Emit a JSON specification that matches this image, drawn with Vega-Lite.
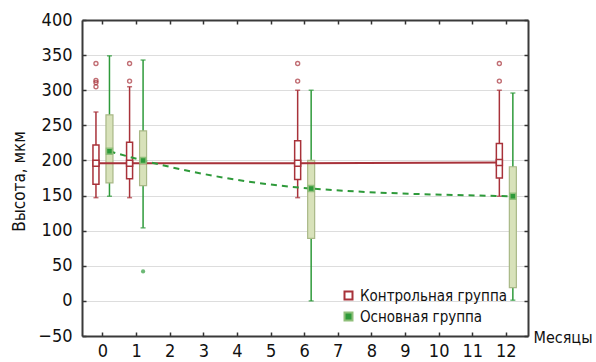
{
  "$schema": "https://vega.github.io/schema/vega-lite/v6.json",
  "width": 446,
  "height": 316,
  "autosize": "none",
  "padding": {"left": 82, "top": 20, "right": 68, "bottom": 26},
  "config": {
    "view": {"stroke": null},
    "font": "DejaVu Sans Condensed",
    "axis": {"domain": true, "domainColor": "#3a3a3a", "domainWidth": 2, "grid": false, "tickColor": "#333", "tickWidth": 1.5, "labelFont": "DejaVu Sans Condensed", "titleFont": "DejaVu Sans Condensed"}
  },
  "datasets": {
    "boxes": [
      {"group": "Контрольная группа", "month": 0, "lower": 147, "q1": 166, "median": 196, "q3": 222, "upper": 269},
      {"group": "Контрольная группа", "month": 1, "lower": 147, "q1": 174, "median": 196, "q3": 226, "upper": 305},
      {"group": "Контрольная группа", "month": 6, "lower": 147, "q1": 173, "median": 196, "q3": 228, "upper": 300},
      {"group": "Контрольная группа", "month": 12, "lower": 149, "q1": 175, "median": 197, "q3": 224, "upper": 300},
      {"group": "Основная группа", "month": 0, "lower": 149, "q1": 168, "median": 213, "q3": 265, "upper": 349},
      {"group": "Основная группа", "month": 1, "lower": 104, "q1": 164, "median": 200, "q3": 242, "upper": 343},
      {"group": "Основная группа", "month": 6, "lower": 0, "q1": 89, "median": 160, "q3": 200, "upper": 300},
      {"group": "Основная группа", "month": 12, "lower": 1, "q1": 19, "median": 149, "q3": 191, "upper": 296}
    ],
    "outliers": [
      {"group": "Контрольная группа", "month": 0, "value": 338},
      {"group": "Контрольная группа", "month": 0, "value": 314},
      {"group": "Контрольная группа", "month": 0, "value": 311},
      {"group": "Контрольная группа", "month": 0, "value": 305},
      {"group": "Контрольная группа", "month": 1, "value": 338},
      {"group": "Контрольная группа", "month": 1, "value": 313},
      {"group": "Контрольная группа", "month": 6, "value": 338},
      {"group": "Контрольная группа", "month": 6, "value": 313},
      {"group": "Контрольная группа", "month": 12, "value": 338},
      {"group": "Контрольная группа", "month": 12, "value": 313},
      {"group": "Основная группа", "month": 1, "value": 42}
    ]
  },
  "layer": [
    {
      "data": {"name": "boxes"},
      "transform": [{"filter": "datum.group == 'Контрольная группа'"}],
      "mark": {"type": "rule", "color": "#a8323a", "strokeWidth": 1.5, "xOffset": -6.5},
      "encoding": {
        "x": {"field": "month", "type": "quantitative",
          "scale": {"domain": [-0.46, 12.51], "nice": false, "zero": false},
          "axis": {"orient": "bottom", "zindex": 1, "values": [0,1,2,3,4,5,6,7,8,9,10,11,12], "tickSize": -4, "labelPadding": 10,
            "labelFontSize": 18, "labelColor": "#111", "title": "Месяцы", "titleFontSize": 16, "titleFontWeight": "normal",
            "titleColor": "#111", "titleAnchor": "start", "titleAlign": "left", "titleBaseline": "middle", "titleX": 451, "titleY": 1}},
        "y": {"field": "lower", "type": "quantitative",
          "scale": {"domain": [-50, 400], "nice": false, "zero": false},
          "axis": {"orient": "left", "zindex": 0, "values": [-50,0,50,100,150,200,250,300,350,400], "tickSize": -4, "labelPadding": 14,
            "labelFontSize": 18, "labelColor": "#111", "grid": true, "gridColor": "#dddddd", "gridWidth": 1,
            "title": "Высота, мкм", "titleFontSize": 17, "titleFontWeight": "normal", "titleColor": "#111",
            "titleX": -63, "titleY": 161, "titleBaseline": "middle", "titleAlign": "center", "titleAngle": -90}},
        "y2": {"field": "upper"}
      }
    },
    {
      "data": {"name": "boxes"},
      "transform": [{"filter": "datum.group == 'Основная группа'"}],
      "mark": {"type": "rule", "color": "#2e9a3a", "strokeWidth": 1.5, "xOffset": 7},
      "encoding": {
        "x": {"field": "month", "type": "quantitative",
          "axis": {"orient": "top", "zindex": 1, "values": [0,1,2,3,4,5,6,7,8,9,10,11,12], "tickSize": -4, "labels": false, "title": null}},
        "y": {"field": "lower", "type": "quantitative",
          "axis": {"orient": "right", "zindex": 1, "values": [-50,0,50,100,150,200,250,300,350,400], "tickSize": -4, "labels": false, "title": null}},
        "y2": {"field": "upper"}
      }
    },
    {
      "data": {"name": "boxes"},
      "transform": [{"filter": "datum.group == 'Контрольная группа'"}, {"fold": ["lower", "upper"], "as": ["stat", "v"]}],
      "mark": {"type": "tick", "orient": "horizontal", "color": "#a8323a", "size": 5, "thickness": 1.5, "xOffset": -6.5},
      "encoding": {
        "x": {"field": "month", "type": "quantitative", "axis": null},
        "y": {"field": "v", "type": "quantitative", "axis": null}
      }
    },
    {
      "data": {"name": "boxes"},
      "transform": [{"filter": "datum.group == 'Основная группа'"}, {"fold": ["lower", "upper"], "as": ["stat", "v"]}],
      "mark": {"type": "tick", "orient": "horizontal", "color": "#2e9a3a", "size": 5, "thickness": 1.5, "xOffset": 7},
      "encoding": {
        "x": {"field": "month", "type": "quantitative", "axis": null},
        "y": {"field": "v", "type": "quantitative", "axis": null}
      }
    },
    {
      "data": {"name": "boxes"},
      "transform": [{"filter": "datum.group == 'Контрольная группа'"}],
      "mark": {"type": "bar", "fill": "white", "stroke": "#a8323a", "strokeWidth": 1.5, "width": 6, "xOffset": -6.5},
      "encoding": {
        "x": {"field": "month", "type": "quantitative", "axis": null},
        "y": {"field": "q1", "type": "quantitative", "axis": null},
        "y2": {"field": "q3"}
      }
    },
    {
      "data": {"name": "boxes"},
      "transform": [{"filter": "datum.group == 'Основная группа'"}],
      "mark": {"type": "bar", "fill": "#d8e2ba", "stroke": "#a9b887", "strokeWidth": 1.2, "width": 7, "xOffset": 7},
      "encoding": {
        "x": {"field": "month", "type": "quantitative", "axis": null},
        "y": {"field": "q1", "type": "quantitative", "axis": null},
        "y2": {"field": "q3"}
      }
    },
    {
      "data": {"name": "boxes"},
      "transform": [{"filter": "datum.group == 'Контрольная группа'"}],
      "mark": {"type": "line", "color": "#a8323a", "strokeWidth": 2, "xOffset": -6.5},
      "encoding": {
        "x": {"field": "month", "type": "quantitative", "axis": null},
        "y": {"field": "median", "type": "quantitative", "axis": null}
      }
    },
    {
      "data": {"name": "boxes"},
      "transform": [{"filter": "datum.group == 'Основная группа'"}],
      "mark": {"type": "line", "color": "#2e9a3a", "strokeWidth": 2, "strokeDash": [6, 5], "interpolate": "monotone", "xOffset": 7},
      "encoding": {
        "x": {"field": "month", "type": "quantitative", "axis": null},
        "y": {"field": "median", "type": "quantitative", "axis": null}
      }
    },
    {
      "data": {"name": "outliers"},
      "transform": [{"filter": "datum.group == 'Контрольная группа'"}],
      "mark": {"type": "point", "shape": "circle", "size": 16, "filled": false, "color": "#a8323a", "strokeWidth": 1.4, "xOffset": -6.5},
      "encoding": {
        "x": {"field": "month", "type": "quantitative", "axis": null},
        "y": {"field": "value", "type": "quantitative", "axis": null}
      }
    },
    {
      "data": {"name": "outliers"},
      "transform": [{"filter": "datum.group == 'Основная группа'"}],
      "mark": {"type": "point", "shape": "circle", "size": 18, "filled": true, "color": "#2e9a3a", "xOffset": 7},
      "encoding": {
        "x": {"field": "month", "type": "quantitative", "axis": null},
        "y": {"field": "value", "type": "quantitative", "axis": null}
      }
    },
    {
      "data": {"name": "boxes"},
      "transform": [{"filter": "datum.group == 'Контрольная группа'"}],
      "mark": {"type": "point", "shape": "square", "size": 36, "strokeWidth": 1.5, "opacity": 1, "xOffset": -6.5},
      "encoding": {
        "x": {"field": "month", "type": "quantitative", "axis": null},
        "y": {"field": "median", "type": "quantitative", "axis": null},
        "fill": {"field": "group", "type": "nominal",
          "scale": {"domain": ["Контрольная группа", "Основная группа"], "range": ["#ffffff", "#2e9a3a"]},
          "legend": {"orient": "none", "legendX": 259, "legendY": 268, "title": null, "symbolType": "square", "symbolSize": 64,
            "labelFontSize": 15, "labelFont": "DejaVu Sans Condensed", "labelColor": "#111", "labelOffset": 4, "rowPadding": 4, "symbolStrokeWidth": 2}},
        "stroke": {"field": "group", "type": "nominal",
          "scale": {"domain": ["Контрольная группа", "Основная группа"], "range": ["#a8323a", "#8fbf7a"]},
          "legend": {"orient": "none", "legendX": 259, "legendY": 268, "title": null, "symbolType": "square", "symbolSize": 64,
            "labelFontSize": 15, "labelFont": "DejaVu Sans Condensed", "labelColor": "#111", "labelOffset": 4, "rowPadding": 4, "symbolStrokeWidth": 2}}
      }
    },
    {
      "data": {"name": "boxes"},
      "transform": [{"filter": "datum.group == 'Основная группа'"}],
      "mark": {"type": "point", "shape": "square", "size": 36, "strokeWidth": 1.5, "opacity": 1, "xOffset": 7},
      "encoding": {
        "x": {"field": "month", "type": "quantitative", "axis": null},
        "y": {"field": "median", "type": "quantitative", "axis": null},
        "fill": {"field": "group", "type": "nominal"},
        "stroke": {"field": "group", "type": "nominal"}
      }
    }
  ],
  "resolve": {"axis": {"x": "independent", "y": "independent"}}
}
